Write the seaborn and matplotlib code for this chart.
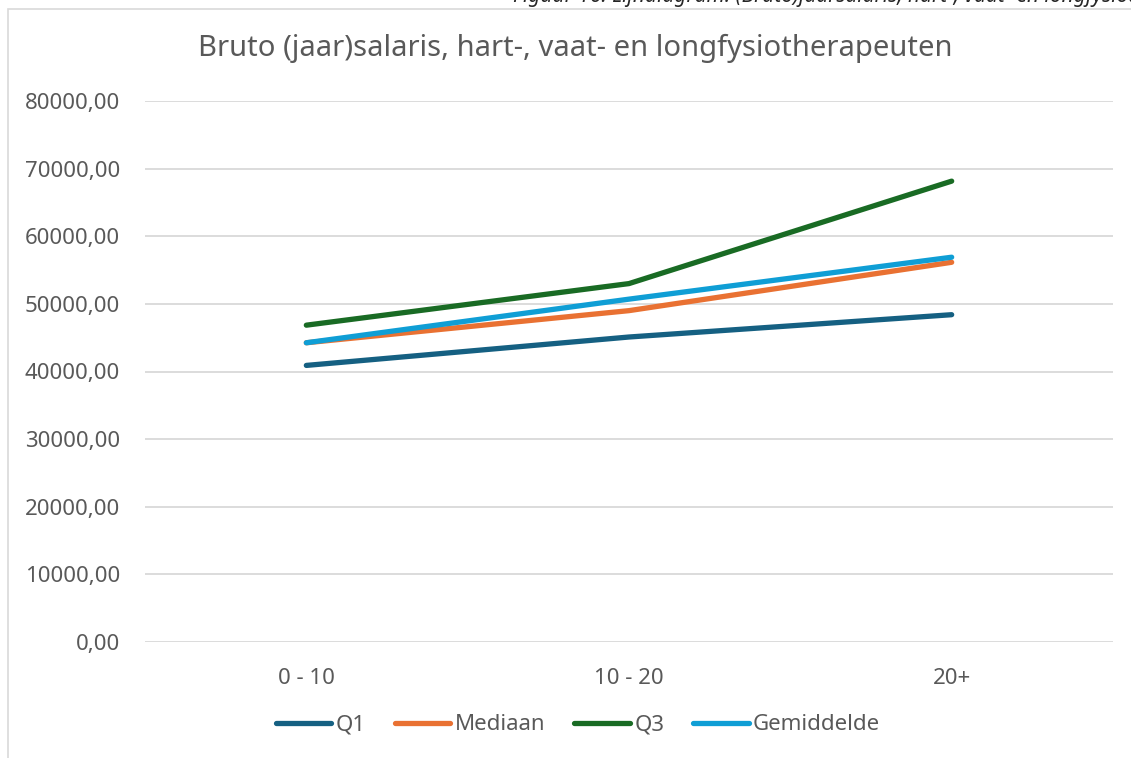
import pandas as pd
import seaborn as sns
import matplotlib.pyplot as plt
from matplotlib.patches import Rectangle

# Data
ervaring = ["0 - 10", "10 - 20", "20+"]
q1 = [40900, 45100, 48400]
mediaan = [44250, 49000, 56150]
q3 = [46850, 53000, 68150]
gemiddelde = [44250, 50700, 56900]

reeksen = ["Q1", "Mediaan", "Q3", "Gemiddelde"]
kleuren = ["#156082", "#E97132", "#196B24", "#0F9ED5"]

df = pd.DataFrame({"Q1": q1, "Mediaan": mediaan, "Q3": q3, "Gemiddelde": gemiddelde},
                  index=ervaring)
df_long = df.reset_index(names="ervaring").melt(id_vars="ervaring", var_name="reeks",
                                                value_name="salaris")
df_long["pos"] = df_long["ervaring"].map({e: i for i, e in enumerate(ervaring)})

sns.set_style("white")
plt.rcParams["font.family"] = ["Noto Sans", "DejaVu Sans"]
grijs = "#595959"

fig = plt.figure(figsize=(11.31, 7.58), dpi=100)
W, H = 1131, 758
ax = fig.add_axes([145 / W, 1 - 642 / H, (1113 - 145) / W, (642 - 101) / H])

sns.lineplot(data=df_long, x="pos", y="salaris", hue="reeks", hue_order=reeksen,
             palette=kleuren, linewidth=3.8, solid_capstyle="round", ax=ax, legend=False)

ax.set_xlim(-0.5, 2.5)
ax.set_ylim(0, 80000)
ax.set_yticks(range(0, 80001, 10000))
ax.set_yticklabels([f"{v},00" for v in range(0, 80001, 10000)])
ax.set_xticks(range(len(ervaring)))
ax.set_xticklabels(ervaring)
ax.set_xlabel("")
ax.set_ylabel("")
ax.grid(axis="y", color="#d9d9d9", linewidth=1.3)
ax.set_axisbelow(True)
for s in ax.spines.values():
    s.set_visible(False)
ax.tick_params(axis="both", length=0, labelsize=16, colors=grijs)
ax.tick_params(axis="y", pad=18)
ax.tick_params(axis="x", pad=19)

# chart border (Excel style frame)
fig.patches.append(Rectangle((8 / W, -0.01), 1.05, 1 - 9 / H + 0.01, transform=fig.transFigure,
                             fill=False, edgecolor="#d9d9d9", linewidth=1.2))

fig.text(575 / W, 1 - 48 / H, "Bruto (jaar)salaris, hart-, vaat- en longfysiotherapeuten",
         ha="center", va="center", fontsize=21, color=grijs)

# caption above the chart (cut off at the top and right, as in the reference)
fig.text(513 / W, 1 - 2 / H,
         "Figuur 16: Lijndiagram: (Bruto)jaarsalaris, hart-, vaat- en longfysiotherapeuten",
         ha="left", va="baseline", fontsize=15, style="italic", color="#262626")

handles = [plt.Line2D([], [], color=c, linewidth=3.8, solid_capstyle="round") for c in kleuren]
fig.legend(handles, reeksen, loc="center", bbox_to_anchor=(578 / W, 1 - 725 / H), ncol=4,
           frameon=False, fontsize=16, labelcolor=grijs, handlelength=2.5,
           handletextpad=0.2, columnspacing=1.3)

plt.savefig("out.png", dpi=100)
plt.close()
